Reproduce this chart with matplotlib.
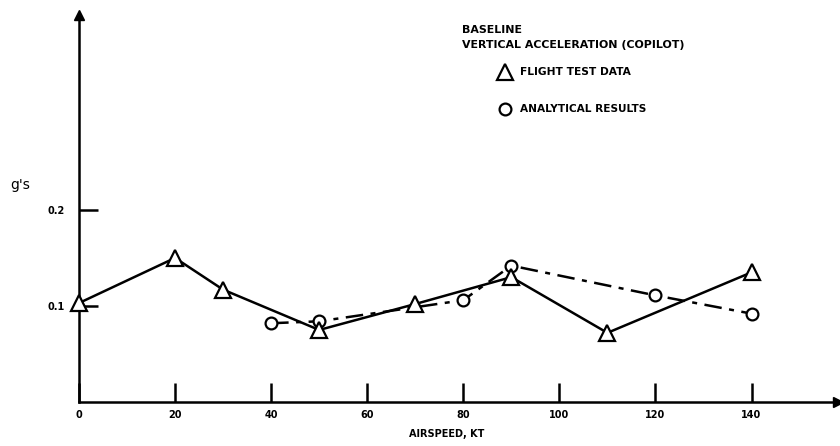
import matplotlib.pyplot as plt

# Flight test data (triangles)
test_speed = [0, 20, 30, 50, 70, 90, 110, 140]
test_g = [0.103, 0.150, 0.117, 0.075, 0.102, 0.130, 0.072, 0.135]

# Analytical results (circles)
calc_speed = [40, 50, 80, 90, 120, 140]
calc_g = [0.082, 0.084, 0.106, 0.142, 0.111, 0.092]

x_ticks = [0, 20, 40, 60, 80, 100, 120, 140]
y_ticks = [0.1, 0.2]

plt.rcParams["font.family"] = ["DejaVu Sans"]

fig = plt.figure(figsize=(8.4, 4.46), dpi=100)
ax = fig.add_axes([0.094, 0.0987, 0.9036, 0.8677])
ax.set_xlim(0, 158)
ax.set_ylim(0, 0.403)

ax.plot(test_speed, test_g, color="black", lw=1.8, marker="^", ms=11,
        mfc="white", mec="black", mew=1.6, zorder=3, clip_on=False)
ax.plot(calc_speed, calc_g, color="black", lw=1.8, ls=(0, (7, 3, 2, 3)),
        marker="o", ms=8.5, mfc="white", mec="black", mew=1.6, zorder=2)

# axes: only left and bottom, with arrow heads
for s in ["top", "right"]:
    ax.spines[s].set_visible(False)
for s in ["left", "bottom"]:
    ax.spines[s].set_linewidth(1.8)
ax.plot([0], [0.403], marker="^", color="black", ms=7, clip_on=False)
ax.plot([158], [0], marker=">", color="black", ms=7, clip_on=False)

ax.set_xticks(x_ticks)
ax.set_yticks(y_ticks)
ax.tick_params(direction="in", length=14, width=1.8, labelsize=7)
ax.tick_params(axis="x", pad=6)
ax.tick_params(axis="y", pad=10)
ax.set_yticklabels(["0.1", "0.2"], fontweight="bold")
ax.set_xticklabels([str(v) for v in x_ticks], fontweight="bold")

fig.text(0.532, 0.027, "AIRSPEED, KT", fontsize=7, fontweight="bold",
         ha="center", va="center")
fig.text(0.012, 0.585, "g's", fontsize=10, va="center")

# legend block
fig.text(0.55, 0.9327, "BASELINE", fontsize=7.9, fontweight="bold",
         va="center")
fig.text(0.55, 0.899, "VERTICAL ACCELERATION (COPILOT)", fontsize=7.9,
         fontweight="bold", va="center")
ax.plot([88.75], [0.344], marker="^", ms=11, mfc="white", mec="black",
        mew=1.6, clip_on=False)
ax.plot([88.75], [0.305], marker="o", ms=8.5, mfc="white", mec="black",
        mew=1.6, clip_on=False)
fig.text(0.619, 0.8386, "FLIGHT TEST DATA", fontsize=7.7, fontweight="bold",
         va="center")
fig.text(0.619, 0.7556, "ANALYTICAL RESULTS", fontsize=7.6, fontweight="bold",
         va="center")

fig.savefig("out.png", dpi=100)
